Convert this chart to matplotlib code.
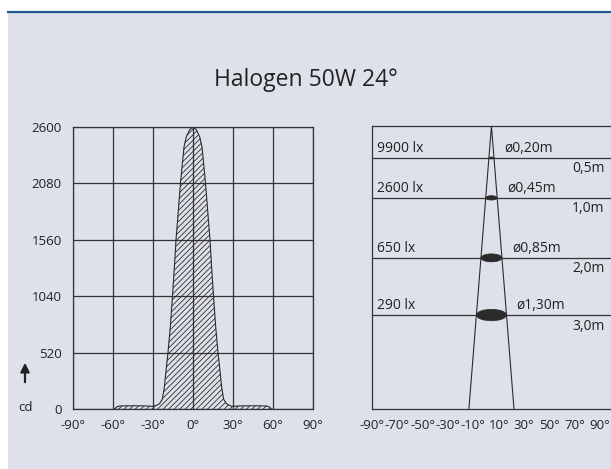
import numpy as np
import matplotlib
matplotlib.use("Agg")
import matplotlib.pyplot as plt
from matplotlib.patches import Rectangle, Ellipse
from matplotlib.lines import Line2D

plt.rcParams['font.family'] = ['Open Sans', 'DejaVu Sans']
plt.rcParams['hatch.linewidth'] = 0.6

# ---- data ----
title = "Halogen 50W 24°"

# light distribution curve (deg -> cd)
curve_deg = [-59, -57, -55, -45, -35, -31, -30, -27, -25, -23, -21.5, -20, -18.75, -17,
             -15.4, -14, -12.75, -11, -9.4, -8, -6.75, -5, -2.5, 0,
             2.5, 5, 6.75, 8, 9.4, 11, 12.75, 14, 15.4, 17, 18.75, 20, 21.5, 23,
             25, 27, 29, 35, 45, 55, 57, 59]
curve_cd = [0, 20, 28, 30, 28, 25, 25, 35, 50, 90, 200, 380, 520, 760,
            1040, 1300, 1560, 1830, 2080, 2260, 2416, 2510, 2575, 2600,
            2575, 2510, 2416, 2260, 2080, 1830, 1560, 1300, 1040, 760, 520, 380, 200, 90,
            50, 35, 25, 28, 30, 28, 20, 0]
cd_ticks = [0, 520, 1040, 1560, 2080, 2600]
deg_ticks_left = [-90, -60, -30, 0, 30, 60, 90]
deg_ticks_right = [-90, -70, -50, -30, -10, 10, 30, 50, 70, 90]

# illuminance table
lux = ["9900 lx", "2600 lx", "650 lx", "290 lx"]
diam = ["ø0,20m", "ø0,45m", "ø0,85m", "ø1,30m"]
dist = ["0,5m", "1,0m", "2,0m", "3,0m"]

# layout of the cone drawing (depth from apex, 0..1)
row_pos = [0.113, 0.254, 0.466, 0.668]
cone_x = 4.3
cone_half = 17.8

dark = '#2b2b2b'
txt = '#222222'
bg = '#dfe1ea'

fig = plt.figure(figsize=(6.11, 4.69), dpi=100)
fig.patch.set_facecolor('white')
fig.patches.append(Rectangle((8 / 611, 0), 1, 1 - 12 / 469, transform=fig.transFigure,
                             facecolor=bg, edgecolor='none', zorder=-10))
fig.lines.append(Line2D([8 / 611, 1], [1 - 12 / 469] * 2, transform=fig.transFigure,
                        color='#1f5a92', lw=1.6))

fig.text(306 / 611, 1 - 80 / 469, title, ha='center', va='center', fontsize=16.5, color=txt)

# ---- left: light distribution ----
ax = fig.add_axes([73 / 611, 60 / 469, 240 / 611, 282 / 469])
ax.set_facecolor('none')
ax.fill_between(curve_deg, 0, curve_cd, facecolor='none', edgecolor=dark,
                hatch='//////', linewidth=0)
ax.plot(curve_deg, curve_cd, color=dark, lw=0.8)
ax.set_xlim(-90, 90)
ax.set_ylim(0, 2600)
ax.set_xticks(deg_ticks_left)
ax.set_xticklabels([f"{d}°" for d in deg_ticks_left])
ax.set_yticks(cd_ticks)
ax.grid(True, color='#333333', lw=0.9)
ax.set_axisbelow(True)
ax.tick_params(length=0, labelsize=9.5, colors=txt)
ax.tick_params(axis='x', pad=7)
ax.tick_params(axis='y', pad=8)
for s in ax.spines.values():
    s.set_color('#333333')
    s.set_linewidth(0.9)

fig.text(25 / 611, 1 - 407 / 469, "cd", ha='center', va='center', fontsize=9.5, color=txt)
ax.annotate('', xy=(25 / 611, 1 - 360 / 469), xytext=(25 / 611, 1 - 385 / 469),
            xycoords='figure fraction', textcoords='figure fraction',
            arrowprops=dict(arrowstyle='-|>', color=txt, lw=1.6, mutation_scale=13))

# ---- right: beam cone ----
ax2 = fig.add_axes([372 / 611, 60 / 469, 239 / 611, 283 / 469])
ax2.set_facecolor('none')
ax2.set_xlim(-90, 90 + 11 / 1.2667)
ax2.set_ylim(1, 0)
ax2.set_xticks(deg_ticks_right)
ax2.set_xticklabels([f"{d}°" for d in deg_ticks_right])
ax2.set_yticks([])
ax2.tick_params(length=0, labelsize=9.5, colors=txt, pad=7)
ax2.spines['right'].set_visible(False)
for s in ax2.spines.values():
    s.set_color('#333333')
    s.set_linewidth(0.9)

ax2.plot([cone_x - cone_half, cone_x, cone_x + cone_half], [1, 0, 1], color=dark, lw=0.8)

for i, p in enumerate(row_pos):
    ax2.axhline(p, color='#333333', lw=0.9)
    w = 2 * cone_half * p
    h = w * 1.2667 * 0.38 / 283
    ax2.add_patch(Ellipse((cone_x, p), w, h, facecolor=dark, edgecolor=dark, lw=0.5, zorder=3))
    ax2.annotate(lux[i], (-86, p), xytext=(0, 1.5), textcoords='offset points',
                 ha='left', va='bottom', fontsize=10, color=txt)
    ax2.annotate(diam[i], (cone_x + cone_half * p + 8, p), xytext=(0, 1.5), textcoords='offset points',
                 ha='left', va='bottom', fontsize=10, color=txt)
    ax2.annotate(dist[i], (93.5, p), xytext=(0, -2.5), textcoords='offset points',
                 ha='right', va='top', fontsize=10, color=txt)

fig.savefig("out.png", dpi=100)
